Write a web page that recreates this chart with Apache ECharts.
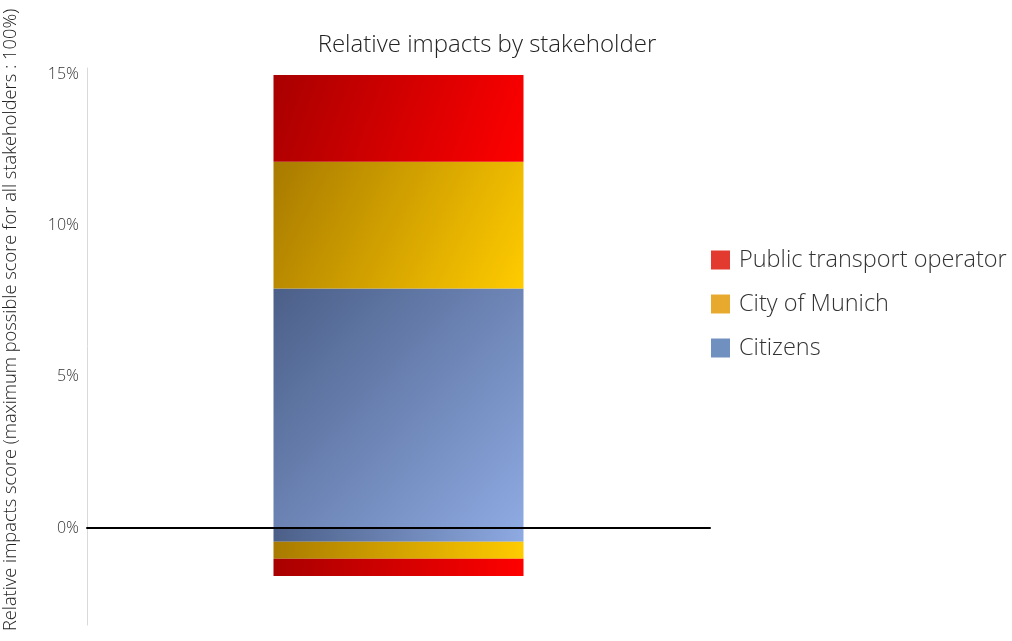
<!DOCTYPE html>
<html>
<head>
<meta charset="utf-8">
<script src="https://cdn.jsdelivr.net/npm/echarts@6/dist/echarts.min.js"></script>
<style>html,body{margin:0;padding:0;background:#fff;}#c{width:1012px;height:641px;}</style>
</head>
<body>
<div id="c"></div>
<script>
var categories = ['Scenario'];
var stakeholders = ['Citizens', 'City of Munich', 'Public transport operator'];
var positiveValues = [7.92, 4.18, 2.87];
var negativeValues = [-0.45, -0.56, -0.57];
var tickValues = [0, 5, 10, 15];
var legendOrder = ['Public transport operator', 'City of Munich', 'Citizens'];
var yAxisTitle = 'Relative impacts score (maximum possible score for all stakeholders : 100%)';

var gradients = {
  'Citizens': ['#4b5f88', '#8eaae2'],
  'City of Munich': ['#a87a00', '#ffcb00'],
  'Public transport operator': ['#a80000', '#ff0000']
};
var legendColors = {
  'Citizens': '#7090c0',
  'City of Munich': '#e8a92f',
  'Public transport operator': '#e33a2f'
};

function grad(name) {
  var g = gradients[name];
  return new echarts.graphic.LinearGradient(0, 0, 1, 1, [
    { offset: 0, color: g[0] },
    { offset: 1, color: g[1] }
  ]);
}

var series = [];
stakeholders.forEach(function (name, i) {
  series.push({
    name: name, type: 'bar', stack: 'total', barWidth: 250,
    itemStyle: { color: grad(name) },
    data: [positiveValues[i]]
  });
  series.push({
    name: name, type: 'bar', stack: 'total', barWidth: 250,
    itemStyle: { color: grad(name) },
    data: [negativeValues[i]]
  });
});

var chart = echarts.init(document.getElementById('c'));
chart.setOption({
  animation: false,
  title: {
    text: 'Relative impacts by stakeholder',
    left: 482, top: 28, textAlign: 'center',
    textStyle: { fontFamily: 'Open Sans', fontWeight: 300, fontSize: 24, color: '#222' }
  },
  legend: {
    orient: 'vertical', left: 706, top: 243,
    itemWidth: 19, itemHeight: 19, itemGap: 20,
    icon: 'rect',
    textStyle: { fontFamily: 'Open Sans', fontWeight: 300, fontSize: 23.5, color: '#333', padding: [0, 0, 0, 4] },
    data: legendOrder.map(function (n) { return { name: n, itemStyle: { color: legendColors[n] } }; })
  },
  graphic: [{
    type: 'text', x: 2, y: 320, rotation: Math.PI / 2,
    style: {
      text: yAxisTitle, fontFamily: 'Open Sans', fontWeight: 300, fontSize: 18.3,
      fill: '#222', align: 'center', verticalAlign: 'top'
    }
  }],
  grid: { left: 87, right: 302, top: 68, bottom: 16, containLabel: false, outerBoundsMode: 'none' },
  xAxis: {
    type: 'category', data: categories, z: 10,
    axisLine: { onZero: true, lineStyle: { color: '#000', width: 2 } },
    axisTick: { show: false }, axisLabel: { show: false }
  },
  yAxis: {
    type: 'value', min: -3.2, max: 15.2,
    axisLine: { show: true, lineStyle: { color: '#d9d9d9', width: 1 } },
    axisTick: { show: false },
    splitLine: { show: false },
    axisLabel: {
      customValues: tickValues,
      formatter: function (v) { return v + '%'; },
      fontFamily: 'Open Sans', fontWeight: 300, fontSize: 16, color: '#333', margin: 8
    }
  },
  series: series
});
</script>
</body>
</html>
